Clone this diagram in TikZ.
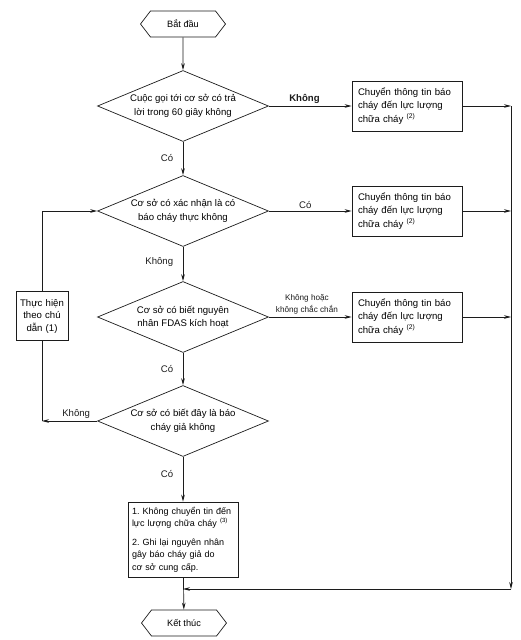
\documentclass[tikz,border=0pt]{standalone}
\usepackage{fontspec}
\setsansfont{Liberation Sans}
\usetikzlibrary{arrows.meta,positioning,shapes.geometric,shapes.symbols}
\definecolor{fcInk}{HTML}{1C1C1C}
\definecolor{fcPaper}{HTML}{FFFFFF}
\newcommand{\fcfont}{\sffamily\frenchspacing\fontsize{9.6}{13.5}\selectfont}
\tikzset{
  fcterm/.style={
    signal,
    signal to=east and west,
    signal pointer angle=105,
    draw=fcInk,
    line width=0.7pt,
    minimum width=85pt,
    minimum height=26pt,
    inner sep=1pt,
    font=\sffamily\fontsize{9.2}{11}\selectfont
  },
  fcdecide/.style={
    diamond,
    aspect=2.4,
    draw=fcInk,
    line width=0.7pt,
    inner sep=0pt,
    minimum width=171pt,
    minimum height=71pt,
    align=center,
    font=\fcfont
  },
  fcbox/.style={
    rectangle,
    draw=fcInk,
    line width=0.7pt,
    align=left,
    inner xsep=6pt,
    text width=#1,
    font=\fcfont
  },
  fcarrow/.style={-{Stealth[length=7pt,width=3.6pt]}, line width=0.7pt, draw=fcInk},
  fcline/.style={line width=0.7pt, draw=fcInk},
  fclabel/.style={font=\fcfont, text=fcInk, inner sep=1.5pt}
}

\begin{document}
\begin{tikzpicture}[x=1pt, y=-1pt, font=\sffamily]
  \fill[fcPaper] (0,0) rectangle (521,640);
  \useasboundingbox (0,0) rectangle (521,640);

  % main column
  \node[fcterm] (start) at (183,24) {Bắt đầu};
  \node[fcdecide] (call) at (183,106) {Cuộc gọi tới cơ sở có trả\\lời trong 60 giây không};
  \node[fcdecide] (real) at (183,211) {Cơ sở có xác nhận là có\\báo cháy thực không};
  \node[fcdecide] (cause) at (183,317) {Cơ sở có biết nguyên\\nhân FDAS kích hoạt};
  \node[fcdecide] (fake) at (183,421) {Cơ sở có biết đây là báo\\cháy giả không};
  \node[fcbox=102pt, inner xsep=4pt, minimum height=75pt, font=\sffamily\frenchspacing\fontsize{9}{12.6}\selectfont] (record) at (183,539.5)
    {1. Không chuyển tin đến\\lực lượng chữa cháy \textsuperscript{(3)}\\[6pt]2. Ghi lại nguyên nhân\\gây báo cháy giả do\\cơ sở cung cấp.};
  \node[fcterm] (stop) at (184,623) {Kết thúc};

  % right column
  \node[fcbox=98pt, minimum height=50pt] (pass1) at (407,106) {Chuyển thông tin báo\\cháy đến lực lượng\\chữa cháy \textsuperscript{(2)}};
  \node[fcbox=98pt, minimum height=50pt] (pass2) at (407,211) {Chuyển thông tin báo\\cháy đến lực lượng\\chữa cháy \textsuperscript{(2)}};
  \node[fcbox=98pt, minimum height=50pt] (pass3) at (407,317) {Chuyển thông tin báo\\cháy đến lực lượng\\chữa cháy \textsuperscript{(2)}};

  % left guide
  \node[fcbox=46pt, align=center, inner xsep=3pt, minimum height=49pt, font=\sffamily\fontsize{9.6}{12.5}\selectfont] (guide) at (42,316) {Thực hiện\\theo chú\\dẫn (1)};

  \coordinate (rail) at (511,589);

  \draw[fcarrow] (start) -- (call);
  \draw[fcarrow] (call) -- node[fclabel, midway, left=8pt] {Có} (real);
  \draw[fcarrow] (real) -- node[fclabel, midway, left=8pt, yshift=2pt] {Không} (cause);
  \draw[fcarrow] (cause) -- node[fclabel, midway, left=8pt] {Có} (fake);
  \draw[fcarrow] (fake) -- node[fclabel, pos=0.38, left=8pt] {Có} (record);
  \draw[fcarrow] (record) -- (stop);

  \draw[fcarrow] (call.east) -- node[fclabel, pos=0.43, above=1pt, font=\fcfont\bfseries] {Không} (pass1.west);
  \draw[fcarrow] (real.east) -- node[fclabel, pos=0.44, above=1pt] {Có} (pass2.west);
  \draw[fcarrow] (cause.east) -- node[fclabel, pos=0.46, above=1pt, align=center, font=\sffamily\fontsize{8.2}{11.5}\selectfont] {Không hoặc\\không chắc chắn} (pass3.west);

  \draw[fcarrow] (pass1.east) -- (pass1.east -| rail);
  \draw[fcarrow] (pass2.east) -- (pass2.east -| rail);
  \draw[fcarrow] (pass3.east) -- (pass3.east -| rail);
  \draw[fcarrow] (pass1.east -| rail) -- (rail);
  \draw[fcarrow] (rail) -- (rail -| record);

  \draw[fcarrow] (fake.west) -- node[fclabel, pos=0.38, above=1pt] {Không} (fake.west -| guide);
  \draw[fcline] (fake.west -| guide) -- (guide.south);
  \draw[fcarrow] (guide.north) |- (real.west);
\end{tikzpicture}
\end{document}
